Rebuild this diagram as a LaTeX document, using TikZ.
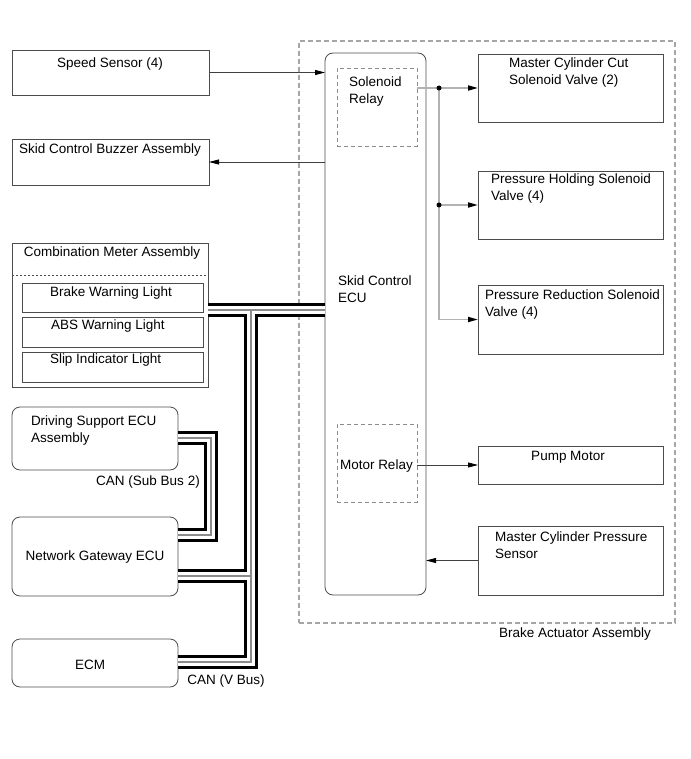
\documentclass[tikz,border=0pt]{standalone}
\usepackage{fontspec}
\setmainfont{Liberation Sans}
\usetikzlibrary{arrows.meta,calc}
\begin{document}
\begin{tikzpicture}[x=1pt,y=-1pt,
  every node/.style={font=\fontsize{13.5}{16.5}\selectfont, inner sep=0pt, outer sep=0pt},
  box/.style={draw=black!70, line width=0.8pt, rectangle, anchor=north west},
  rbox/.style={box, rounded corners=8pt},
  dbox/.style={box, draw=black!45, dash pattern=on 4pt off 3pt},
  frame/.style={box, draw=black!35, line width=1.5pt, dash pattern=on 5pt off 3pt},
  txt/.style={anchor=north west, align=left},
  ctxt/.style={anchor=center},
  conn/.style={draw=black!75, line width=0.8pt},
  gconn/.style={draw=black!30, line width=1.6pt},
  tip/.style={-{Triangle[length=10pt,width=5pt,black]}},
  dot/.style={circle, fill=black, minimum size=5pt, inner sep=0pt},
  bus/.style={draw=black, line width=14.5pt, line join=miter, line cap=butt,
    postaction={draw=white, line width=7.5pt},
    postaction={draw=black!45, line width=1.2pt}}
]
\useasboundingbox (0,0) rectangle (690,759);

% left column
\node[box, minimum width=197, minimum height=45] (ss) at (12,50) {};
\node[ctxt] (sst) at (110,64) {Speed Sensor (4)};
\node[box, minimum width=197, minimum height=46] (bz) at (12,139) {};
\node[ctxt] (bzt) at (110,150) {Skid Control Buzzer Assembly};

\node[box, minimum width=196, minimum height=144] (cm) at (12,243) {};
\node[ctxt] (cmt) at (112,253) {Combination Meter Assembly};
\draw[draw=black!70, line width=0.6pt, dash pattern=on 2pt off 2pt] (cm.west |- 0,275) coordinate (sepl) -- (cm.east |- sepl);
\node[box, minimum width=181, minimum height=29] (bw) at (22,283) {};
\node[anchor=west] (bwt) at (50,293) {Brake Warning Light};
\node[box, minimum width=181, minimum height=30] (abs) at (22,317) {};
\node[anchor=west] (abst) at (51,326) {ABS Warning Light};
\node[box, minimum width=181, minimum height=30] (slip) at (22,352) {};
\node[anchor=west] (slipt) at (50,360) {Slip Indicator Light};

\node[rbox, minimum width=166, minimum height=63] (ds) at (12,407) {};
\node[txt] (dst) at (31,416) {Driving Support ECU\\Assembly};
\node[ctxt] (can2) at (148,482) {CAN (Sub Bus 2)};
\node[rbox, minimum width=166, minimum height=79] (ng) at (12,517) {};
\node[ctxt] (ngt) at (95,557) {Network Gateway ECU};
\node[rbox, minimum width=166, minimum height=48] (ecm) at (12,639) {};
\node[ctxt] (ecmt) at (90,665) {ECM};
\node[ctxt] (canv) at (226,681) {CAN (V Bus)};

% brake actuator assembly
\node[frame, minimum width=376, minimum height=582] (baa) at (299,41) {};
\node[ctxt] (baat) at (575,634) {Brake Actuator Assembly};
\node[rbox, minimum width=101, minimum height=542] (ecu) at (325,53) {};
\node[txt] (ecut) at (338,276) {Skid Control\\ECU};
\node[dbox, minimum width=80, minimum height=78] (sr) at (337,68) {};
\node[txt] (srt) at (349,77) {Solenoid\\Relay};
\node[dbox, minimum width=80, minimum height=78] (mr) at (337,424) {};
\node[anchor=west] (mrt) at (340,466) {Motor Relay};

\node[box, minimum width=185, minimum height=68] (mcc) at (478,54) {};
\node[txt] (mcct) at (509,58) {Master Cylinder Cut\\Solenoid Valve (2)};
\node[box, minimum width=185, minimum height=68] (phs) at (478,171) {};
\node[txt] (phst) at (491,174) {Pressure Holding Solenoid\\Valve (4)};
\node[box, minimum width=185, minimum height=69] (prs) at (478,285) {};
\node[txt] (prst) at (485,290) {Pressure Reduction Solenoid\\Valve (4)};
\node[box, minimum width=185, minimum height=38] (pm) at (478,446) {};
\node[ctxt] (pmt) at (568,457) {Pump Motor};
\node[box, minimum width=185, minimum height=69] (mcps) at (478,526) {};
\node[txt] (mcpst) at (495,532) {Master Cylinder Pressure\\Sensor};

% signal connectors
\draw[conn, tip] (ss.east) -- (ss.east -| ecu.west);
\draw[conn, tip] (bz.east -| ecu.west) -- (bz.east);
\coordinate (d1) at (439,88);
\coordinate (d2) at (d1 |- phs.west);
\coordinate (d3) at (d1 |- prs.west);
\draw[gconn] (sr.east |- d1) -- (d1);
\draw[gconn] (d1) -- (d3);
\draw[gconn, tip] (d1) -- (mcc.west);
\draw[gconn, tip] (d2) -- (phs.west);
\draw[gconn, tip] (d3) -- (prs.west);
\node[dot] (dot1) at (d1) {};
\node[dot] (dot2) at (d2) {};
\draw[conn, tip] (pm.west -| mr.east) -- (pm.west);
\draw[conn, tip] (mcps.west) -- (mcps.west -| ecu.east);

% CAN buses
\coordinate (jt) at (251,310);
\coordinate (jg) at (251,576);
\coordinate (jb) at (251,662);
\coordinate (la) at (211,438);
\coordinate (lb) at (211,535);
\draw[bus] (cm.east |- jt) -- (ecu.west |- jt)
  (jt) -- (jb) -- (ecm.east |- jb)
  (jg) -- (ng.east |- jg)
  (ds.east |- la) -- (la) -- (lb) -- (ng.east |- lb);
\end{tikzpicture}
\end{document}
